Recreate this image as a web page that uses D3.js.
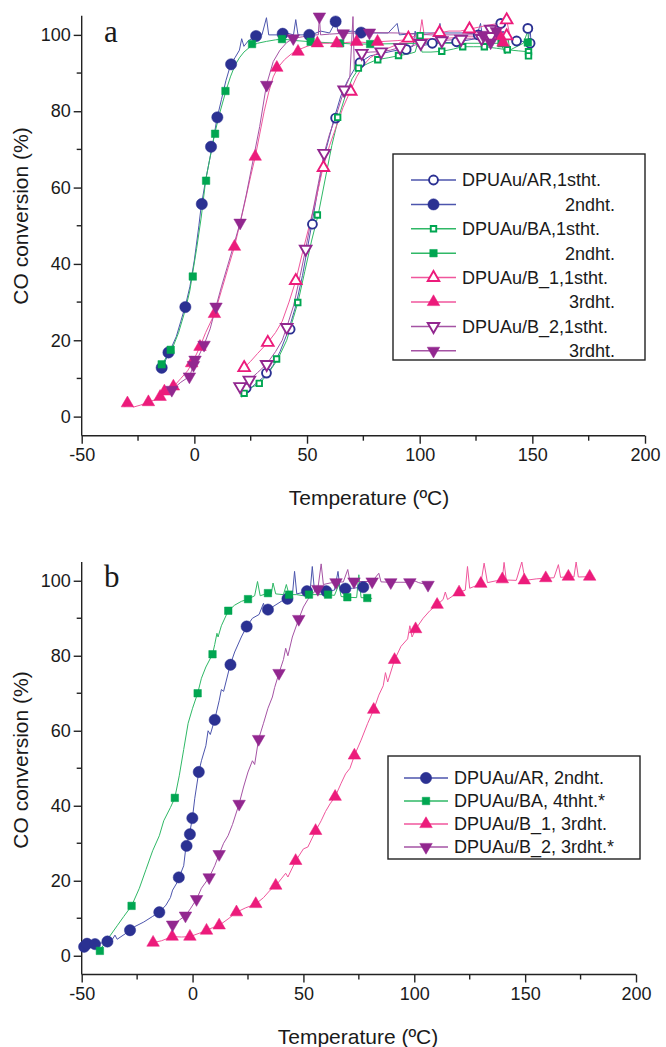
<!DOCTYPE html>
<html lang="en">
<head>
  <meta charset="utf-8"/>
  <title>CO conversion vs temperature</title>
  <script src="https://cdn.jsdelivr.net/npm/d3@7/dist/d3.min.js"></script>
  <style>
    body { margin: 0; background: #fff; }
    svg text { font-family: "Liberation Sans", Arial, sans-serif; fill: #1a1a1a; }
    svg text.panel-letter { font-family: "Liberation Serif", "Times New Roman", serif; }
  </style>
</head>
<body>
<svg id="chart" width="666" height="1047"></svg>

<script>

  // ---- panel a data: [temperature, conversion] ----
  let lineA1 = [[21,5.5],[23,6.5],[25,7.5],[28,9],[32,11],[35,13.5],[38,17],[42,23],[45,29],[48,37],[52,50],[55,60],[58,69],[62,78],[65,84],[68,88],[71,91],[74,93],[78,94.5],[82,95],[86,95.5],[90,96],[94,96.5],[97,97],[98,101],[99,97],[104,97.5],[108,98],[109,103],[110,98],[116,98],[120,98.5],[125,99],[127,103],[128,99],[134,99],[137,101],[140,99],[144,98.5],[148,98],[149,102],[149.5,97]];
  let marksA1 = [[23,7.5],[32,11.4],[42.5,22.9],[52.4,50.4],[62.7,78.2],[73.5,92.7],[94,96.2],[105.6,97.8],[116.4,98.2],[126,100],[136,103],[143,98.4],[148,101.7],[149,97.8]];

  let lineA2 = [[-15,12],[-13,14.5],[-11,17],[-8,21],[-6,25],[-4,29],[-2,34],[0,41],[2,50],[3,55],[5,62],[7,68],[8,71],[10,78],[12,83],[14,88],[16,92],[18,94],[20,96],[21,99],[22,97],[24,98.5],[27,99.5],[30,100],[32,104.5],[33,100],[38,100],[41,100.5],[44,100],[45,104],[46,100],[52,100],[56,101],[60,100.5],[62.7,103.5],[64,100.5],[70,101],[74,100.5],[80,100.5],[86,100.5],[90,103],[91,100],[100,100.5],[110,100.5],[120,100.5],[130,100],[135,101],[140,100]];
  let marksA2 = [[-14.5,12.8],[-11.5,16.8],[-4,28.7],[3.3,55.7],[7.4,70.7],[10.2,78.4],[16.3,92.3],[27.4,99.7],[39.2,100.3],[51,100],[62.7,103.5],[74,100.6]];

  let lineA3 = [[21,5],[22,6],[25,7.5],[29,8.7],[33,11.5],[37,15],[41,20],[44,26],[46,30],[49,38],[52,46],[55,53],[58,62],[61,71],[64,78.4],[67,84],[70,88.5],[73,91.3],[77,92.5],[81,93.5],[86,94],[91,94.6],[95,95],[98,95.5],[100,99.8],[101,95.5],[105,95.5],[110,95.7],[115,96.3],[119,96.9],[124,96.9],[129,96.9],[134,96.5],[139,96.1],[144,95.8],[148,95.6]];
  let marksA3 = [[22.1,6.1],[28.8,8.7],[36.5,15.1],[45.9,29.9],[54.6,52.8],[63.6,78.4],[72.8,91.3],[81.4,93.5],[90.6,94.6],[100.2,99.8],[109.8,95.7],[119.1,96.9],[128.7,96.9],[138.9,96.1],[148.3,95.6],[148.3,94.5]];

  let lineA4 = [[-15,13],[-12,16],[-10,17.5],[-7,22],[-4,28],[-2,33],[-1,36.7],[1,44],[3,52],[5,61.8],[7,68],[9,74],[11,79],[14,85.3],[16,89],[18,92],[20,94],[22,95.5],[25,97],[28,97.8],[32,98.3],[36,98.7],[39,98.9],[45,98.5],[52,98.2],[58,98],[65,97.8],[71,97.6],[78,97.6],[90,97.7],[100,97.8],[110,97.8],[120,97.8],[130,97.8],[136,97.8],[138,95],[139,100],[140,96],[146,97.8],[148,101],[148.5,97]];
  let marksA4 = [[-14.5,13.7],[-10.5,17.5],[-0.7,36.7],[5.2,61.8],[9.2,74.1],[13.8,85.3],[25.6,97.6],[38.9,98.9],[51.6,98.2],[64.7,97.8],[78,97.6],[136.3,97.8],[148,98]];

  let lineA5 = [[21,12],[22,12.8],[25,14.5],[28,16.5],[32.6,19.4],[36,22],[39,25],[42,30],[45,35.6],[48,43],[51,50],[54,57],[57,65],[60,71],[63,76],[66,81],[69,85],[72,89],[75,92],[78,94],[82,95.5],[86,96.5],[90,97.5],[94,99],[97,99.5],[100,100],[101,104],[102,100],[106,100.5],[109,100.6],[113,101],[118,101],[122,101.5],[126,102],[130,102.5],[135,103],[138.6,103.9],[140,100]];
  let marksA5 = [[22.1,12.8],[32.6,19.4],[45,35.6],[57.3,65.2],[69.4,85.2],[95,99.1],[108.8,100.6],[122.1,101.5],[138.6,103.9],[138.6,99.7]];

  let lineA6 = [[-31,2.5],[-29.7,3.5],[-27,2.5],[-24,3],[-20.4,3.8],[-17,4.5],[-15,5.2],[-13,6.6],[-9,8],[-6,10],[-3,12],[-1,14],[2.5,18.3],[5,22],[9,27],[12,33],[15,39],[17.8,44.5],[20,50],[22,55],[25,63],[27,68],[29,74],[31,80],[33,85],[35,89],[37,91.4],[40,93.5],[43,95],[45.4,95.9],[50,97],[54.6,97.8],[60,97.8],[63,97.8],[67,98],[72,98.2],[76,98],[81.3,98.2],[90,98.5],[100,99],[110,99],[120,99.5],[130,99.5],[135.7,99.7],[138,100]];
  let marksA6 = [[-29.7,3.5],[-20.4,3.8],[-15.2,5.2],[-13.3,6.6],[-9.3,7.9],[-1.2,14],[2.5,18.3],[8.9,26.9],[17.8,44.5],[27,68.1],[36.6,91.4],[46,95.6],[54.6,97.8],[63.2,97.8],[72,98.2],[81.3,98.2],[135.7,99.7],[137,98]];

  let lineA7 = [[19,7],[20.3,7.9],[22,8.5],[24.4,9.6],[28,11.5],[32,13.7],[36,17],[39,20],[41,23.4],[44,29],[47,37],[49.4,43.9],[52,52],[55,61],[57.6,69],[60,74],[63,79],[66.5,85.6],[69,89],[70.4,104.8],[71,91],[72,92.5],[74.3,95.2],[78,95.5],[82.9,95.6],[87,96],[91.3,96.7],[96,97],[100.5,97.8],[105,98],[109.8,98.5],[114,98.7],[118.4,98.9],[123,99],[127.5,99.1],[131.5,99.6]];
  let marksA7 = [[20.3,7.9],[24.4,9.6],[32.1,13.7],[41,23.4],[49.4,43.9],[57.6,69],[66.5,85.6],[74.3,95.2],[82.9,95.6],[91.3,96.7],[100.5,97.8],[109.8,98.5],[118.4,98.9],[127.5,99.1],[131.5,101.5],[131.5,99.6]];

  let lineA8 = [[-11,6.5],[-10,7],[-6,9],[-2.2,10.5],[0,14],[2,16],[4.3,18.8],[7,23],[9.6,28.8],[12,34],[15,40],[18,46],[20.3,50.8],[23,58],[26,67],[29,76],[32,86.9],[35,93],[38,96],[41,98],[43.9,99.1],[48,99.5],[52,100],[55,100],[55.5,104.8],[56,100],[60,100.2],[66,100.4],[72,100.5],[77.7,100.6],[90,100.5],[105,100],[120,100],[128,100],[131.5,98],[135,101]];
  let marksA8 = [[-10,7],[-2.2,10.5],[-0.4,13.5],[0.3,14.9],[4.3,18.8],[9.6,28.8],[20.3,50.8],[32.1,86.9],[43.9,99.1],[55.5,104.8],[66.1,100.4],[77.7,100.6],[128,100],[131.5,98],[134,101]];

  let legendLabelsA = ['DPUAu/AR,1stht.', '2ndht.', 'DPUAu/BA,1stht.', '2ndht.',
    'DPUAu/B_1,1stht.', '3rdht.', 'DPUAu/B_2,1stht.', '3rdht.'];

  // ---- panel b data ----
  let lineB1 = [[-50,2],[-48,2.6],[-45,3],[-42,3.3],[-38,3.8],[-36,4.5],[-35,5.5],[-34,4.4],[-30,6],[-26,7.8],[-22,9],[-18,10.5],[-15,11.6],[-12,13.5],[-10,15.5],[-9,17.5],[-7,19.5],[-6,21],[-4,24],[-3,29],[-1.5,32],[0,37],[1,42],[2.8,49],[4,52],[6,56],[7,60],[8,59],[10,63],[12,68],[13,71],[14,70.5],[17,77.6],[19,81],[22,85],[24.4,87.8],[27,90],[30,91],[32,94],[33,91.5],[36,93],[40,94.5],[42.8,95.2],[45,96],[46,102.5],[47,96.5],[52,97.2],[53,97],[54,103.8],[55,97.2],[60,97.2],[64,97.5],[65.6,102.5],[66.5,98],[69,98],[72,98],[77,98.3]];
  let marksB1 = [[-48.9,2.4],[-47.6,3.2],[-44,3.1],[-38.4,3.8],[-28.2,6.8],[-15,11.6],[-6.2,20.9],[-2.7,29.3],[-1.2,32.4],[-0.1,36.7],[2.8,49],[10,62.9],[17.1,77.6],[24.4,87.8],[34,92.3],[42.8,95.2],[51.6,97.2],[60.3,97.2],[68.9,97.9],[77,98.3]];

  let lineB2 = [[-42,1.3],[-40,3],[-37,5.5],[-34,8],[-31,10.5],[-27.5,13.3],[-24,18],[-21,23],[-18,28],[-15,32],[-13,36],[-10,39.5],[-8,42.1],[-6,48],[-4,55],[-2,62],[0,66],[2.3,70],[4,74],[6,77],[9,80.4],[10,83],[11,86],[11.5,85],[13,88],[16.1,92],[19,93.5],[22,94.5],[25,95.1],[28,96],[29.3,99.8],[30.5,96],[34,96.7],[35.5,96.5],[36.3,99.4],[37.5,96.5],[41,96.3],[42.3,99],[43.5,96.3],[47,96.3],[50,96],[52.5,96.3],[58,96.3],[61.1,96.3],[64,96.1],[66,99],[67,95.8],[69.8,95.6],[74,95.5],[75,101.6],[76,95.5],[78.8,95.4],[81,95.3]];
  let marksB2 = [[-41.8,1.3],[-27.5,13.3],[-8,42.1],[2.3,70],[9,80.4],[16.1,92],[25,95.1],[34,96.7],[43.5,96.3],[52.5,96.3],[61.1,96.3],[69.8,95.6],[78.8,95.4]];

  let lineB3 = [[-19,3],[-17.8,3.5],[-14,4],[-9.2,5.1],[-5,5],[-1.2,5.1],[3,6],[6.3,6.7],[9,7.5],[12,8.1],[16,9.8],[19.8,11.6],[24,12.8],[28.5,13.8],[32,15.5],[35,17.5],[37.5,18.7],[40,20.5],[42,22],[43,21],[46.5,25.3],[50,28.5],[52,29],[55.5,33.3],[58,36],[60,38.5],[62,40.5],[64.3,42.4],[67,46],[69,48.5],[71,50],[73,53.4],[76,57.5],[79,62],[81.7,65.6],[84,69.5],[86,72],[87,75.5],[88,73],[91.1,78.9],[94,82.5],[97,84.5],[98,88],[99,85],[100.6,87.1],[104,90],[107,92],[110.3,93.6],[113,95],[114,97],[115,95],[118,96.2],[120.2,96.9],[123,97.5],[124,103.8],[125,98],[128,98.7],[130,99.2],[131.5,104.7],[133,99.5],[137,100],[139.7,100.4],[140.5,104.9],[141.5,100.2],[146,100.1],[148.5,105],[150,100.1],[155,100.5],[159.3,100.7],[163,100.8],[165,104.3],[166,100.9],[169.5,101.1],[172,101],[173,105],[174,101],[179.1,101.1]];
  let marksB3 = [[-17.8,3.5],[-9.2,5.1],[-1.2,5.1],[6.3,6.7],[12,8.1],[19.8,11.6],[28.5,13.8],[37.5,18.7],[46.5,25.3],[55.5,33.3],[64.3,42.4],[73,53.4],[81.7,65.6],[91.1,78.9],[100.6,87.1],[110.3,93.6],[120.2,96.9],[130,99.2],[139.7,100.4],[149.6,100.1],[159.3,100.7],[169.5,101.1],[179.1,101.1]];

  let lineB4 = [[-10,7.5],[-9,8.3],[-6,9.5],[-3.2,10.7],[-1,12.5],[1.8,15.1],[4,18],[7.5,20.9],[10,24],[12,27.1],[14,30],[16,32],[18,35],[21,40.5],[23,45],[25,49],[27,52],[28,51],[29.8,57.8],[32,62],[34,66],[36,69],[37,71.5],[39,75.4],[41,79],[42,82],[43,80],[45,85],[47.9,89.8],[50,93],[52,95],[54,96.5],[56.5,97.8],[58,104.5],[59,99],[62,99.4],[64.7,99.6],[68,99.7],[70,103],[71,99.8],[72.8,99.8],[77,99.8],[81,99.8],[84,102],[85,99.7],[89.4,99.6],[94,99.6],[98,99.6],[100,100],[102,99.5],[106.2,98.9],[107.6,99]];
  let marksB4 = [[-9,8.3],[-3.2,10.7],[1.8,15.1],[7.5,20.9],[12,27.1],[21,40.5],[29.8,57.8],[39,75.4],[47.9,89.8],[56.5,97.8],[64.7,99.6],[72.8,99.8],[81,99.8],[89.4,99.6],[98,99.6],[106.2,98.9]];

  let legendLabelsB = ['DPUAu/AR, 2ndht.', 'DPUAu/BA, 4thht.*', 'DPUAu/B_1, 3rdht.', 'DPUAu/B_2, 3rdht.*'];

  // axis ticks
  let xTicks = [-50, 0, 50, 100, 150, 200];
  let xMinorTicks = [-25, 25, 75, 125, 175];
  let yTicks = [0, 20, 40, 60, 80, 100];
  let yMinorTicks = [10, 30, 50, 70, 90];

  // colours: marker colour, thin line colour
  let palette = {
    blue: ['#2b3192', '#4c55ad'],
    green: ['#00a651', '#2fb866'],
    pink: ['#ec1b7b', '#f0569c'],
    purple: ['#92278f', '#a553a4']
  };

  let svg = d3.select('#chart');

  function symbolPath(shape, size) {
    let type = {circle: d3.symbolCircle, square: d3.symbolSquare, up: d3.symbolTriangle, down: d3.symbolTriangle}[shape];
    return d3.symbol().type(type).size(size)();
  }

  function markerTransform(shape, x, y) {
    return `translate(${x},${y})` + (shape === 'down' ? ' rotate(180)' : '');
  }

  function drawMarker(g, s, x, y) {
    let size = {circle: s.filled ? 100 : 62, square: s.filled ? 56 : 30, up: s.filled ? 68 : 58, down: s.filled ? 68 : 58}[s.shape];
    g.append('path')
      .attr('d', symbolPath(s.shape, size))
      .attr('transform', markerTransform(s.shape, x, y))
      .attr('fill', s.filled ? palette[s.color][0] : '#fff')
      .attr('stroke', palette[s.color][0])
      .attr('stroke-width', s.filled ? 0.5 : 1.9);
  }

  function drawPanel(cfg) {
    let x = d3.scaleLinear().domain([-50, 200]).range(cfg.xRange);
    let y = d3.scaleLinear().domain([-5, 105]).range(cfg.yRange);
    let g = svg.append('g');

    // x axis (hyphen minus like the original)
    let xAxis = g.append('g').attr('transform', `translate(0,${cfg.yRange[0]})`);
    xAxis.call(d3.axisBottom(x).tickValues(xTicks).tickSize(8).tickPadding(5).tickFormat(d => String(d)));
    xAxis.selectAll('line.minor').data(xMinorTicks).enter()
      .append('line')
      .attr('class', 'minor')
      .attr('x1', d => x(d)).attr('x2', d => x(d))
      .attr('y1', 0).attr('y2', 5);

    // y axis
    let yAxis = g.append('g').attr('transform', `translate(${cfg.xRange[0]},0)`);
    yAxis.call(d3.axisLeft(y).tickValues(yTicks).tickSize(8).tickPadding(3).tickFormat(d => String(d)));
    yAxis.selectAll('line.minor').data(yMinorTicks).enter()
      .append('line')
      .attr('class', 'minor')
      .attr('y1', d => y(d)).attr('y2', d => y(d))
      .attr('x1', 0).attr('x2', -5);

    g.selectAll('.domain').remove();
    xAxis.append('line').attr('x1', cfg.xRange[0]).attr('x2', cfg.xRange[1]).attr('y1', 0).attr('y2', 0);
    yAxis.append('line').attr('y1', cfg.yRange[0]).attr('y2', cfg.yRange[1]).attr('x1', 0).attr('x2', 0);
    g.selectAll('line').attr('stroke', '#222').attr('stroke-width', 1.4);
    g.selectAll('.tick text').attr('font-size', 18).attr('fill', '#1a1a1a');

    // titles
    g.append('text')
      .attr('x', cfg.xTitle[0]).attr('y', cfg.xTitle[1])
      .attr('text-anchor', 'middle').attr('font-size', 21)
      .text('Temperature (ºC)');
    g.append('text')
      .attr('transform', `translate(${cfg.yTitle[0]},${cfg.yTitle[1]}) rotate(-90)`)
      .attr('text-anchor', 'middle').attr('font-size', 21)
      .text('CO conversion (%)');
    g.append('text')
      .attr('class', 'panel-letter')
      .attr('x', 104).attr('y', cfg.letterY)
      .attr('font-size', 31)
      .text(cfg.letter);

    // curves
    let line = d3.line().x(d => x(d[0])).y(d => y(d[1]));
    cfg.series.forEach(function (s) {
      g.append('path')
        .attr('d', line(s.line))
        .attr('fill', 'none')
        .attr('stroke', palette[s.color][1])
        .attr('stroke-width', 1);
    });
    cfg.series.forEach(function (s) {
      let mg = g.append('g');
      s.marks.forEach(function (p) {
        drawMarker(mg, s, x(p[0]), y(p[1]));
      });
    });

    // legend
    let lg = g.append('g');
    lg.append('rect')
      .attr('x', cfg.legendBox[0]).attr('y', cfg.legendBox[1])
      .attr('width', cfg.legendBox[2]).attr('height', cfg.legendBox[3])
      .attr('fill', '#fff').attr('stroke', '#222').attr('stroke-width', 1.4);
    cfg.series.forEach(function (s, i) {
      let ry = cfg.legendRow0 + i * cfg.legendStep;
      lg.append('line')
        .attr('x1', cfg.legendLine[0]).attr('x2', cfg.legendLine[1])
        .attr('y1', ry).attr('y2', ry)
        .attr('stroke', palette[s.color][1]).attr('stroke-width', 1.5);
      drawMarker(lg, s, (cfg.legendLine[0] + cfg.legendLine[1]) / 2, ry);
      let label = cfg.labels[i];
      let right = cfg.rightAligned && !label.startsWith('DPUAu');
      lg.append('text')
        .attr('x', right ? cfg.rightAligned : cfg.legendText)
        .attr('y', ry)
        .attr('dy', '0.36em')
        .attr('text-anchor', right ? 'end' : 'start')
        .attr('font-size', 18)
        .text(label);
    });
  }

  drawPanel({
    letter: 'a', letterY: 42,
    xRange: [81.7, 645], yRange: [435.7, 15.8],
    xTitle: [369, 505], yTitle: [28, 216],
    legendBox: [393, 154, 252, 206],
    legendRow0: 180, legendStep: 24.4,
    legendLine: [411, 456], legendText: 462, rightAligned: 615,
    labels: legendLabelsA,
    series: [
      {line: lineA1, marks: marksA1, color: 'blue', shape: 'circle', filled: false},
      {line: lineA2, marks: marksA2, color: 'blue', shape: 'circle', filled: true},
      {line: lineA3, marks: marksA3, color: 'green', shape: 'square', filled: false},
      {line: lineA4, marks: marksA4, color: 'green', shape: 'square', filled: true},
      {line: lineA5, marks: marksA5, color: 'pink', shape: 'up', filled: false},
      {line: lineA6, marks: marksA6, color: 'pink', shape: 'up', filled: true},
      {line: lineA7, marks: marksA7, color: 'purple', shape: 'down', filled: false},
      {line: lineA8, marks: marksA8, color: 'purple', shape: 'down', filled: true}
    ]
  });

  drawPanel({
    letter: 'b', letterY: 587,
    xRange: [81.7, 636], yRange: [974.5, 562],
    xTitle: [358, 1044], yTitle: [28, 760],
    legendBox: [388, 756, 252, 103],
    legendRow0: 778, legendStep: 23,
    legendLine: [404, 448], legendText: 454, rightAligned: null,
    labels: legendLabelsB,
    series: [
      {line: lineB1, marks: marksB1, color: 'blue', shape: 'circle', filled: true},
      {line: lineB2, marks: marksB2, color: 'green', shape: 'square', filled: true},
      {line: lineB3, marks: marksB3, color: 'pink', shape: 'up', filled: true},
      {line: lineB4, marks: marksB4, color: 'purple', shape: 'down', filled: true}
    ]
  });

</script>
</body>
</html>
